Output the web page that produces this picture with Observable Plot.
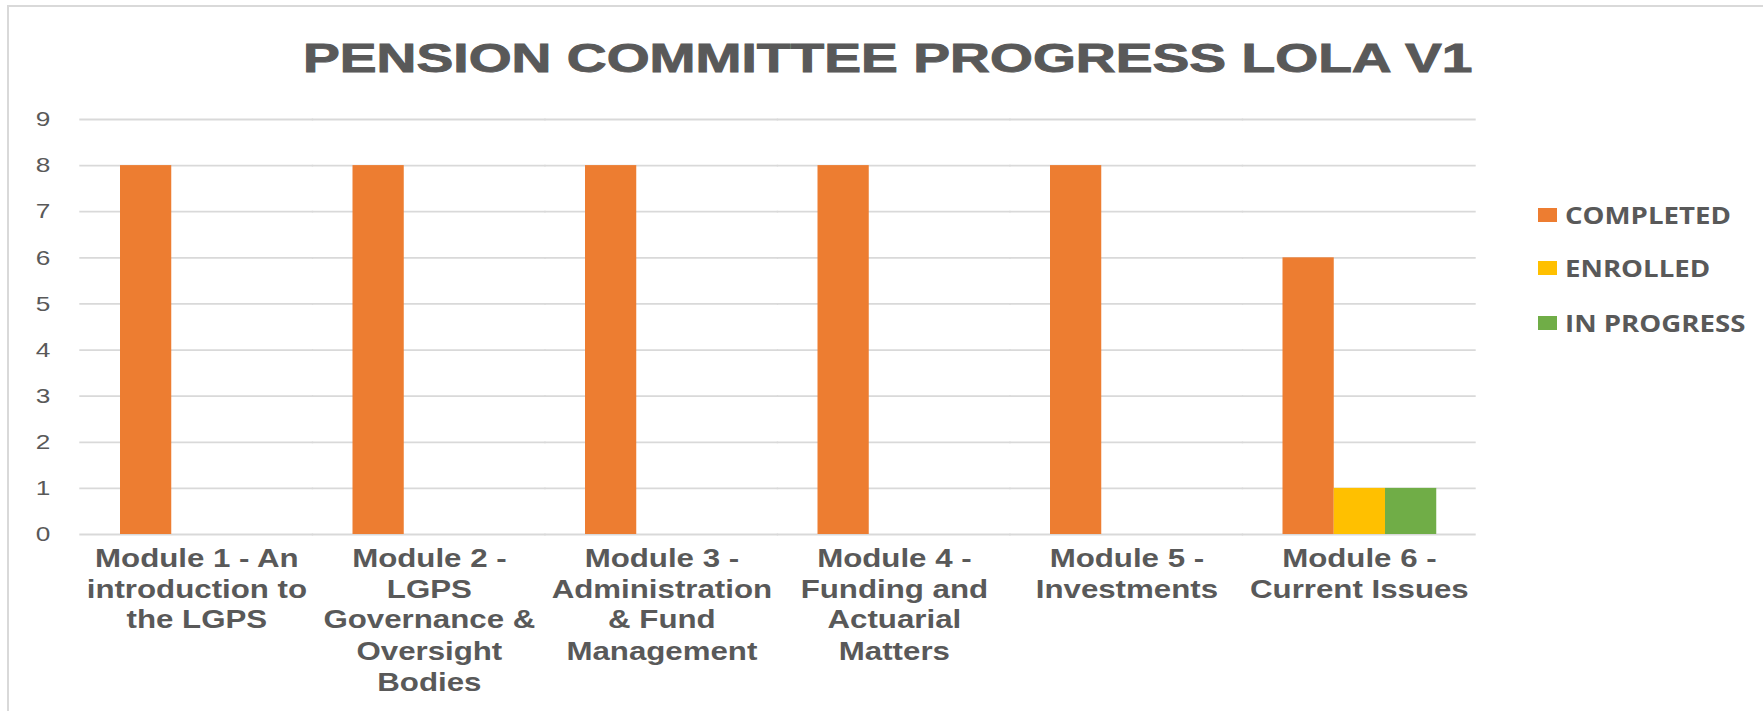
<!DOCTYPE html>
<html><head><meta charset="utf-8">
<script src="https://cdn.jsdelivr.net/npm/d3@7"></script>
<script src="https://cdn.jsdelivr.net/npm/@observablehq/plot@0.6"></script>
<style>
html,body{margin:0;padding:0;background:#fff;overflow:hidden}
#wrap{position:relative;width:1763px;height:711px;overflow:hidden;font-family:"Liberation Sans",Arial,sans-serif;background:#fff}
#frame{position:absolute;left:7px;top:5px;width:2000px;height:1000px;border-left:2px solid #d9d9d9;border-top:2px solid #d9d9d9;pointer-events:none}
#title{height:95px;box-sizing:border-box;padding-top:38px;padding-left:13px;line-height:40px;font-size:40px;font-weight:bold;color:#595959;text-align:center;white-space:nowrap}
#title span{display:inline-block;transform:scaleX(1.38);transform-origin:center;-webkit-text-stroke:0.9px #595959}
.lg{position:absolute;left:1538px;height:30px;display:flex;align-items:center;white-space:nowrap}
.lg i{display:inline-block;width:19px;height:14px;margin-right:8px}
.lg span{font-family:"Open Sans","Liberation Sans",sans-serif;font-size:23px;font-weight:bold;color:#595959;display:inline-block;transform:scaleX(1.2);transform-origin:left center}
</style></head>
<body>
<div id="wrap">
  <div id="title"><span>PENSION COMMITTEE PROGRESS LOLA V1</span></div>
  <div id="chart"></div>
  <div id="legend"></div>
  <div id="frame"></div>
</div>
<script>
const modules = ["Module 1", "Module 2", "Module 3", "Module 4", "Module 5", "Module 6"];
const moduleLabels = [
  "Module 1 - An\nintroduction to\nthe LGPS",
  "Module 2 -\nLGPS\nGovernance &\nOversight\nBodies",
  "Module 3 -\nAdministration\n& Fund\nManagement",
  "Module 4 -\nFunding and\nActuarial\nMatters",
  "Module 5 -\nInvestments",
  "Module 6 -\nCurrent Issues"
];
const series = ["COMPLETED", "ENROLLED", "IN PROGRESS"];
const seriesColors = ["#ED7D31", "#FFC000", "#70AD47"];
const completed = [8, 8, 8, 8, 8, 6];
const enrolled = [0, 0, 0, 0, 0, 1];
const inProgress = [0, 0, 0, 0, 0, 1];
const yTicks = [0, 1, 2, 3, 4, 5, 6, 7, 8, 9];

const valuesBySeries = [completed, enrolled, inProgress];
const data = [];
modules.forEach((m, i) => series.forEach((s, j) => data.push({module: m, series: s, value: valuesBySeries[j][i]})));

const S = 1.25; // horizontal stretch of the original picture
const W = 1763 / S;
const mL = 64, mR = 230, pIn = 0.336, pOut = 0.168;
const step = (W - mL - mR) / (modules.length - pIn + 2 * pOut);
const halfGap = step * pIn / 2 + 0.3;

const chart = Plot.plot({
  width: W,
  height: 616,
  marginTop: 24,
  marginBottom: 177,
  marginLeft: mL,
  marginRight: mR,
  style: {fontFamily: "'Liberation Sans', Arial, sans-serif", background: "transparent", overflow: "visible"},
  fx: {domain: modules, paddingInner: pIn, paddingOuter: pOut, label: null},
  x: {domain: series, padding: 0, axis: null},
  y: {domain: [0, 9], label: null},
  color: {domain: series, range: seriesColors},
  marks: [
    Plot.ruleY(yTicks, {y: d => d, stroke: "#d9d9d9", strokeWidth: 1.8, insetLeft: -halfGap, insetRight: -halfGap}),
    Plot.barY(data, {fx: "module", x: "series", y: "value", fill: "series"}),
    Plot.axisY(yTicks, {tickSize: 0, tickPadding: step * pOut + mL - 40, fontSize: 21, color: "#595959", label: null}),
    Plot.axisFx({anchor: "bottom", tickSize: 0, tickPadding: 10, fontSize: 25, fontWeight: "bold", lineHeight: 1.24,
      color: "#595959", label: null, tickFormat: d => moduleLabels[modules.indexOf(d)]})
  ]
});
chart.setAttribute("width", 1763);
chart.setAttribute("viewBox", `0 0 ${W} 616`);
chart.setAttribute("preserveAspectRatio", "none");
chart.style.maxWidth = "none";
chart.style.display = "block";
document.getElementById("chart").appendChild(chart);

const legendY = [215, 268, 323];
const lg = document.getElementById("legend");
series.forEach((s, j) => {
  const d = document.createElement("div");
  d.className = "lg";
  d.style.top = (legendY[j] - 15) + "px";
  d.innerHTML = `<i style="background:${seriesColors[j]}"></i><span>${s}</span>`;
  lg.appendChild(d);
});
</script>
</body></html>
